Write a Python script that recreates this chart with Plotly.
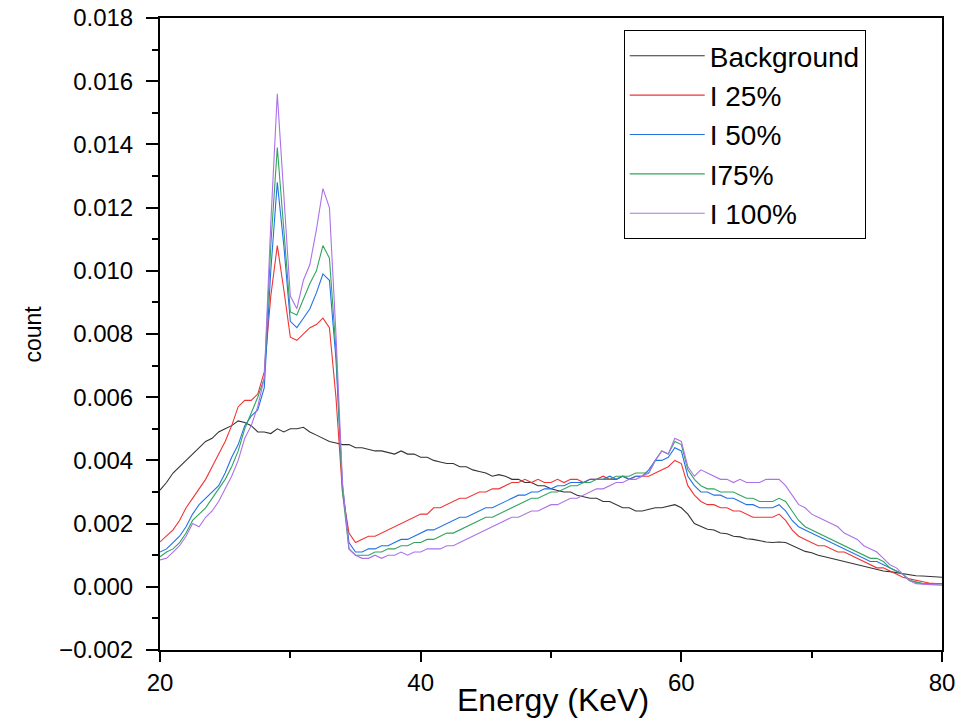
import plotly.graph_objects as go

energy = [20, 20.5, 21, 21.5, 22, 22.5, 23, 23.5, 24, 24.5, 25, 25.5, 26, 26.5, 27, 27.5, 28, 28.5, 29, 29.5,
          30, 30.5, 31, 31.5, 32, 32.5, 33, 33.5, 34, 34.5, 35, 35.5, 36, 36.5, 37, 37.5, 38, 38.5, 39, 39.5,
          40, 40.5, 41, 41.5, 42, 42.5, 43, 43.5, 44, 44.5, 45, 45.5, 46, 46.5, 47, 47.5, 48, 48.5, 49, 49.5,
          50, 50.5, 51, 51.5, 52, 52.5, 53, 53.5, 54, 54.5, 55, 55.5, 56, 56.5, 57, 57.5, 58, 58.5, 59, 59.5,
          60, 60.5, 61, 61.5, 62, 62.5, 63, 63.5, 64, 64.5, 65, 65.5, 66, 66.5, 67, 67.5, 68, 68.5, 69, 69.5,
          70, 70.5, 71, 71.5, 72, 72.5, 73, 73.5, 74, 74.5, 75, 75.5, 76, 76.5, 77, 77.5, 78, 78.5, 79, 79.5, 80]

background = [0.00306, 0.0033, 0.0036, 0.0038, 0.0040, 0.0042, 0.0044, 0.0046, 0.0047, 0.0049,
              0.0050, 0.0051, 0.00525, 0.0052, 0.0051, 0.0049, 0.0049, 0.00485, 0.0050, 0.0049,
              0.0050, 0.0050, 0.00505, 0.0049, 0.0048, 0.0047, 0.0046, 0.00455, 0.0045, 0.0045,
              0.0044, 0.0044, 0.00435, 0.0043, 0.0043, 0.00425, 0.0042, 0.0043, 0.0042, 0.0042,
              0.0041, 0.0041, 0.0040, 0.00395, 0.0039, 0.0039, 0.0038, 0.0038, 0.0037, 0.00365,
              0.0036, 0.0035, 0.00355, 0.0035, 0.0034, 0.0034, 0.0033, 0.0033, 0.0032, 0.0032,
              0.0031, 0.00305, 0.0030, 0.0030, 0.0029, 0.00285, 0.0028, 0.0028, 0.0027, 0.0027,
              0.0026, 0.0025, 0.0025, 0.0024, 0.0024, 0.00245, 0.0025, 0.0025, 0.00255, 0.0026,
              0.0025, 0.0023, 0.0020, 0.0019, 0.00182, 0.0018, 0.0017, 0.00168, 0.0016, 0.00158,
              0.00152, 0.0015, 0.00145, 0.00142, 0.0014, 0.00142, 0.0014, 0.0013, 0.0012, 0.00112,
              0.00108, 0.0010, 0.00095, 0.0009, 0.00085, 0.0008, 0.00076, 0.0007, 0.00066, 0.0006,
              0.00056, 0.0005, 0.00048, 0.00045, 0.0004, 0.00037, 0.00035, 0.00034, 0.00032, 0.00031, 0.0003]

i25 = [0.00142, 0.0016, 0.0018, 0.0021, 0.0025, 0.0028, 0.0031, 0.0034, 0.0038, 0.0042,
       0.0046, 0.0051, 0.0057, 0.0059, 0.0059, 0.0061, 0.0068, 0.0092, 0.0108, 0.0094,
       0.0079, 0.0078, 0.0080, 0.0082, 0.0083, 0.0085, 0.0082, 0.0060, 0.0030, 0.0017,
       0.0014, 0.0015, 0.0016, 0.0016, 0.0017, 0.0018, 0.0019, 0.0020, 0.0021, 0.0022,
       0.0023, 0.0023, 0.0025, 0.0025, 0.0026, 0.0027, 0.0028, 0.0028, 0.0029, 0.0030,
       0.0030, 0.0031, 0.0031, 0.0032, 0.0033, 0.0033, 0.0034, 0.0033, 0.0034, 0.0033,
       0.0033, 0.0034, 0.0033, 0.0034, 0.0034, 0.0033, 0.0034, 0.0034, 0.0035, 0.0034,
       0.0034, 0.0035, 0.0034, 0.0035, 0.0035, 0.0035, 0.0036, 0.0037, 0.0038, 0.0040,
       0.0039, 0.0032, 0.0029, 0.0027, 0.0026, 0.0026, 0.0025, 0.0025, 0.0024, 0.0024,
       0.0023, 0.0022, 0.0022, 0.0022, 0.0022, 0.0023, 0.0021, 0.0018, 0.0016, 0.0015,
       0.0014, 0.0013, 0.0013, 0.0012, 0.0011, 0.0011, 0.0010, 0.0009, 0.0008, 0.0007,
       0.0006, 0.0006, 0.0005, 0.0004, 0.0003, 0.00025, 0.0002, 0.00015, 0.00012, 0.0001, 0.0001]

i50 = [0.0011, 0.0012, 0.0014, 0.0016, 0.0019, 0.0023, 0.0026, 0.0028, 0.0030, 0.0032,
       0.0036, 0.0041, 0.0045, 0.0051, 0.0054, 0.0056, 0.0063, 0.0100, 0.0128, 0.0108,
       0.0084, 0.0082, 0.0085, 0.0088, 0.0093, 0.0099, 0.0097, 0.0072, 0.0032, 0.0014,
       0.0011, 0.0011, 0.0012, 0.0012, 0.0013, 0.0013, 0.0014, 0.0015, 0.0015, 0.0016,
       0.0017, 0.0018, 0.0018, 0.0019, 0.0020, 0.0021, 0.0022, 0.0022, 0.0023, 0.0024,
       0.0025, 0.0025, 0.0026, 0.0027, 0.0028, 0.0029, 0.0029, 0.0030, 0.0030, 0.0031,
       0.0031, 0.0032, 0.0032, 0.0033, 0.0033, 0.0033, 0.0034, 0.0034, 0.0034, 0.0035,
       0.0034, 0.0035, 0.0034, 0.0035, 0.0035, 0.0037, 0.0040, 0.0040, 0.0041, 0.0044,
       0.0043, 0.0035, 0.0032, 0.0030, 0.0030, 0.0029, 0.0029, 0.0028, 0.0028, 0.0027,
       0.0026, 0.0026, 0.0025, 0.0025, 0.0025, 0.0026, 0.0024, 0.0021, 0.0019, 0.0018,
       0.0017, 0.0016, 0.0015, 0.0014, 0.0013, 0.0012, 0.0011, 0.0010, 0.0009, 0.0008,
       0.0008, 0.0007, 0.0006, 0.0005, 0.0004, 0.0002, 0.00015, 0.0001, 0.0001, 0.0001, 0.0001]

i75 = [0.00095, 0.0011, 0.0012, 0.0014, 0.0017, 0.0021, 0.0023, 0.0025, 0.0028, 0.0031,
       0.0034, 0.0038, 0.0043, 0.0050, 0.0055, 0.0060, 0.0066, 0.0108, 0.0139, 0.0114,
       0.0087, 0.0086, 0.0091, 0.0096, 0.0100, 0.0108, 0.0104, 0.0075, 0.0030, 0.0012,
       0.0010, 0.0010, 0.0010, 0.0011, 0.0011, 0.0012, 0.0012, 0.0013, 0.0013, 0.0014,
       0.0014, 0.0015, 0.0015, 0.0016, 0.0017, 0.0017, 0.0018, 0.0019, 0.0020, 0.0021,
       0.0022, 0.0022, 0.0023, 0.0024, 0.0025, 0.0026, 0.0027, 0.0028, 0.0028, 0.0029,
       0.0030, 0.0030, 0.0031, 0.0032, 0.0032, 0.0033, 0.0033, 0.0034, 0.0034, 0.0034,
       0.0035, 0.0035, 0.0035, 0.0036, 0.0036, 0.0036, 0.0040, 0.0043, 0.0042, 0.0046,
       0.0045, 0.0037, 0.0034, 0.0032, 0.0031, 0.0031, 0.0030, 0.0030, 0.0030, 0.0029,
       0.0028, 0.0028, 0.0027, 0.0027, 0.0027, 0.0028, 0.0027, 0.0024, 0.0021, 0.0019,
       0.0018, 0.0017, 0.0016, 0.0015, 0.0014, 0.0013, 0.0012, 0.0011, 0.0010, 0.0009,
       0.0009, 0.0008, 0.0006, 0.0005, 0.0004, 0.0002, 0.00015, 0.0001, 0.0001, 0.0001, 0.0001]

i100 = [0.00085, 0.0009, 0.0011, 0.0013, 0.0016, 0.0020, 0.0019, 0.0022, 0.0024, 0.0027,
        0.0031, 0.0035, 0.0040, 0.0047, 0.0051, 0.0057, 0.0066, 0.0115, 0.0156, 0.0125,
        0.0092, 0.0088, 0.0097, 0.0102, 0.0113, 0.0126, 0.0120, 0.0080, 0.0033, 0.0012,
        0.0010, 0.0009, 0.0009, 0.0010, 0.0009, 0.0010, 0.0010, 0.0011, 0.0010, 0.0011,
        0.0011, 0.0012, 0.0012, 0.0012, 0.0013, 0.0013, 0.0014, 0.0015, 0.0016, 0.0017,
        0.0018, 0.0019, 0.0020, 0.0021, 0.0022, 0.0022, 0.0023, 0.0024, 0.0024, 0.0025,
        0.0026, 0.0026, 0.0027, 0.0028, 0.0028, 0.0029, 0.0030, 0.0031, 0.0031, 0.0032,
        0.0033, 0.0033, 0.0034, 0.0034, 0.0035, 0.0036, 0.0040, 0.0043, 0.0042, 0.0047,
        0.0046, 0.0038, 0.0035, 0.0037, 0.0036, 0.0035, 0.0034, 0.0034, 0.0033, 0.0034,
        0.0033, 0.0033, 0.0033, 0.0034, 0.0034, 0.0034, 0.0032, 0.0029, 0.0026, 0.0025,
        0.0023, 0.0022, 0.0021, 0.0020, 0.0019, 0.0017, 0.0016, 0.0015, 0.0013, 0.0012,
        0.0011, 0.0009, 0.0007, 0.0006, 0.0004, 0.0002, 0.0001, 0.00008, 0.00006, 0.00006, 0.00005]

series_names = ["Background", "I 25%", "I 50%", "I75%", "I 100%"]
series_values = [background, i25, i50, i75, i100]
series_colors = ["#333333", "#F03434", "#2272E6", "#34A35F", "#AC72E8"]

x_ticks = [20, 40, 60, 80]
y_ticks = [-0.002, 0.000, 0.002, 0.004, 0.006, 0.008, 0.010, 0.012, 0.014, 0.016, 0.018]

FONT = "Liberation Sans, Arial, sans-serif"

fig = go.Figure()
for name, vals, col in zip(series_names, series_values, series_colors):
    fig.add_trace(go.Scatter(x=energy, y=vals, mode="lines", name=name,
                             line=dict(color=col, width=1.1)))

fig.update_layout(
    width=979, height=722,
    margin=dict(l=160, r=37, t=18, b=72, autoexpand=False),
    paper_bgcolor="white", plot_bgcolor="white",
    font=dict(family=FONT, color="black"),
    showlegend=True,
    legend=dict(x=0.593, y=0.981, xanchor="left", yanchor="top",
                bordercolor="black", borderwidth=1, bgcolor="white",
                font=dict(size=28, family=FONT), itemwidth=75,
                traceorder="normal"),
    xaxis=dict(range=[20, 80], tickvals=x_ticks, ticktext=[str(v) for v in x_ticks],
               automargin=False,
               showgrid=False, zeroline=False, showline=True, linecolor="black", linewidth=2,
               mirror=True, ticks="outside", ticklen=10, tickwidth=2, tickcolor="black",
               tickfont=dict(size=24, family=FONT), ticklabeloverflow="allow",
               minor=dict(dtick=10, tick0=20, ticks="outside", ticklen=6, tickwidth=2, tickcolor="black")),
    yaxis=dict(range=[-0.002, 0.018], tickvals=y_ticks, tickformat=".3f",
               automargin=False,
               showgrid=False, zeroline=False, showline=True, linecolor="black", linewidth=2,
               mirror=True, ticks="outside", ticklen=12, tickwidth=2, tickcolor="black",
               tickfont=dict(size=24, family=FONT), ticklabeloverflow="allow",
               ticklabelstandoff=8,
               minor=dict(dtick=0.001, tick0=-0.002, ticks="outside", ticklen=6, tickwidth=2, tickcolor="black")),
    annotations=[
        dict(text="Energy (KeV)", xref="paper", yref="paper", x=0.502, y=-0.047,
             xanchor="center", yanchor="top", showarrow=False,
             font=dict(size=32, family=FONT)),
        dict(text="count", xref="paper", yref="paper", x=-0.163, y=0.5,
             xanchor="center", yanchor="middle", showarrow=False, textangle=-90,
             font=dict(size=23, family=FONT)),
    ],
)

fig.write_html("out.html",
               config={"displayModeBar": False},
               post_script="document.body.style.margin='0';document.body.style.overflow='hidden';")
